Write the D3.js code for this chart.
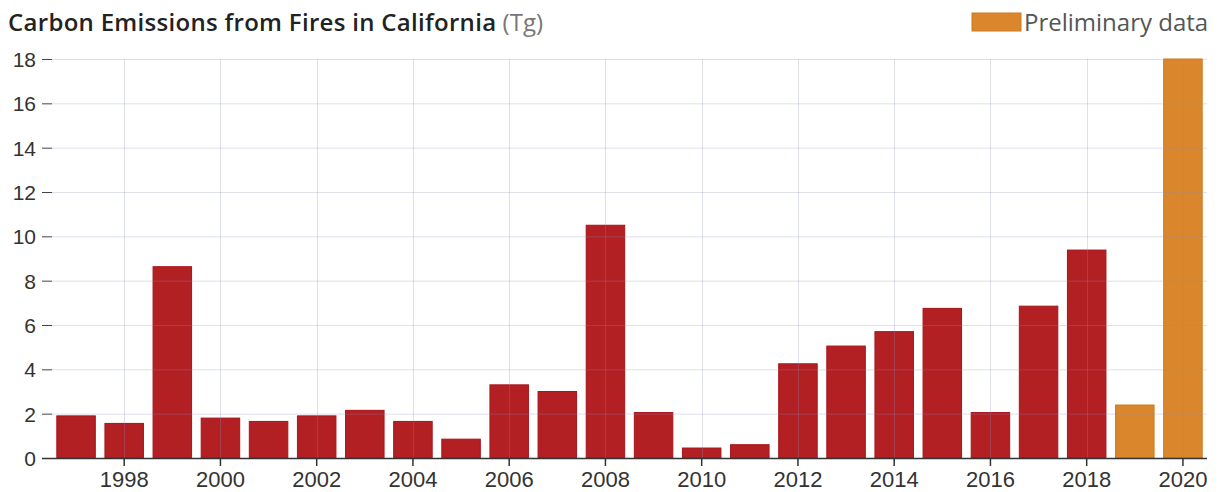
<!DOCTYPE html>
<html>
<head>
<meta charset="utf-8">
<script src="https://cdn.jsdelivr.net/npm/d3@7"></script>
<style>
  body { margin: 0; background: #fff; }
  svg { display: block; font-family: "Open Sans", Lato, sans-serif; }
  .tick text { fill: #333; }
  .grid line { stroke: #8890b8; stroke-opacity: 0.28; stroke-width: 1; }
</style>
</head>
<body>
<div id="chart"></div>
<script>
const years = d3.range(1997, 2021);
const emissions = [1.9, 1.56, 8.63, 1.8, 1.65, 1.9, 2.15, 1.65, 0.85, 3.3, 3.0, 10.5,
  2.05, 0.45, 0.6, 4.25, 5.05, 5.7, 6.75, 2.05, 6.85, 9.38, 2.39, 18];
const preliminary = [2019, 2020];
const yTicks = [0, 2, 4, 6, 8, 10, 12, 14, 16, 18];
const xTicks = [1998, 2000, 2002, 2004, 2006, 2008, 2010, 2012, 2014, 2016, 2018, 2020];

const width = 1220, height = 492;
const svg = d3.select("#chart").append("svg")
  .attr("width", width)
  .attr("height", height);

const x = d3.scaleBand().domain(years).range([52, 1207]).paddingInner(0.2).paddingOuter(0.1);
const y = d3.scaleLinear().domain([0, 18]).range([458, 59]);

// bars
svg.selectAll("rect.bar")
  .data(years)
  .enter().append("rect")
  .attr("class", "bar")
  .attr("x", d => x(d))
  .attr("width", x.bandwidth())
  .attr("y", (d, i) => y(emissions[i]))
  .attr("height", (d, i) => y(0) - y(emissions[i]))
  .attr("fill", d => preliminary.includes(d) ? "#d9862c" : "#b22024")
  .attr("stroke", d => preliminary.includes(d) ? "#d07a1c" : "#a8141a")
  .attr("stroke-width", 1);

// grid, drawn over the bars
const grid = svg.append("g").attr("class", "grid");
grid.selectAll("line.h")
  .data(yTicks.slice(1))
  .enter().append("line")
  .attr("x1", 52).attr("x2", 1207)
  .attr("y1", d => y(d) + 0.5).attr("y2", d => y(d) + 0.5);
grid.selectAll("line.v")
  .data(xTicks)
  .enter().append("line")
  .attr("x1", d => Math.round(x(d) + x.bandwidth() / 2) + 0.5)
  .attr("x2", d => Math.round(x(d) + x.bandwidth() / 2) + 0.5)
  .attr("y1", y(18)).attr("y2", y(0));

// axes
const yAxis = svg.append("g")
  .attr("transform", "translate(52,0)")
  .call(d3.axisLeft(y).tickValues(yTicks).tickSize(10).tickPadding(6).tickSizeOuter(0));
yAxis.select(".domain").remove();
yAxis.selectAll(".tick line").attr("stroke", "#444");
yAxis.selectAll(".tick text").attr("font-size", 21).attr("dy", "0.36em");

const xAxis = svg.append("g")
  .attr("transform", "translate(0,458)")
  .call(d3.axisBottom(x).tickValues(xTicks).tickSize(8).tickPadding(5).tickSizeOuter(0));
xAxis.select(".domain").remove();
xAxis.selectAll(".tick line").attr("stroke", "#333").attr("stroke-width", 1.5);
xAxis.selectAll(".tick text").attr("font-size", 22);

svg.append("line")
  .attr("x1", 42).attr("x2", 1207)
  .attr("y1", 458.5).attr("y2", 458.5)
  .attr("stroke", "#333").attr("stroke-width", 1.5);

// title
const title = svg.append("text")
  .attr("x", 8).attr("y", 31)
  .attr("font-size", 24)
  .attr("fill", "#222");
title.append("tspan").attr("font-weight", 600).attr("letter-spacing", 0.3)
  .text("Carbon Emissions from Fires in California");
title.append("tspan").attr("fill", "#777").text(" (Tg)");

// legend
svg.append("rect")
  .attr("x", 972).attr("y", 13).attr("width", 49).attr("height", 18)
  .attr("fill", "#d9862c").attr("stroke", "#d07a1c");
svg.append("text")
  .attr("x", 1024).attr("y", 31)
  .attr("font-size", 24)
  .attr("fill", "#555")
  .text("Preliminary data");
</script>
</body>
</html>
